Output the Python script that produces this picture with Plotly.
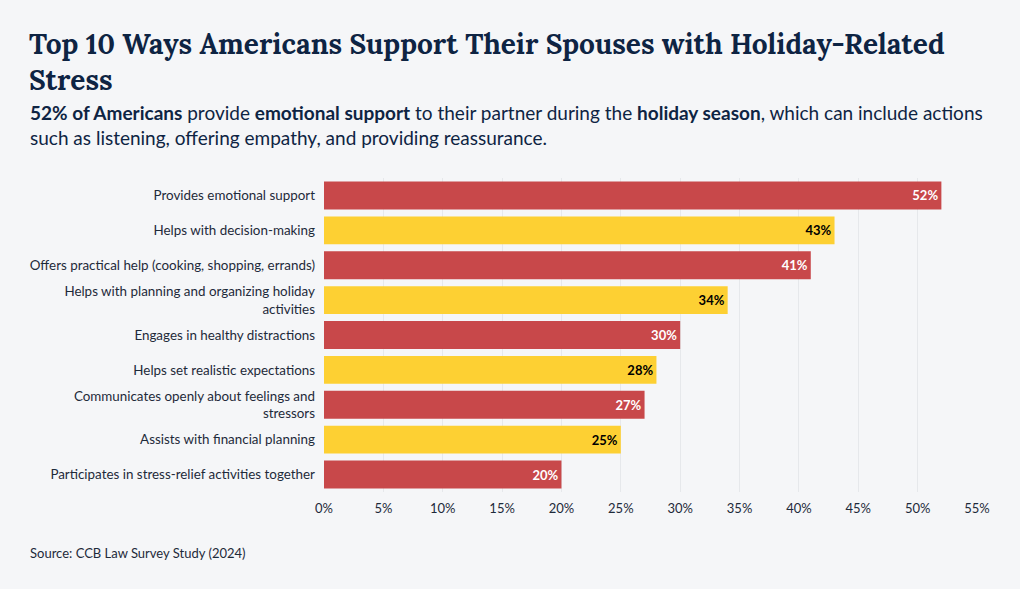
import plotly.graph_objects as go

categories = [
    "Provides emotional support",
    "Helps with decision-making",
    "Offers practical help (cooking, shopping, errands)",
    "Helps with planning and organizing holiday<br>activities",
    "Engages in healthy distractions",
    "Helps set realistic expectations",
    "Communicates openly about feelings and<br>stressors",
    "Assists with financial planning",
    "Participates in stress-relief activities together",
]
values = [52, 43, 41, 34, 30, 28, 27, 25, 20]
tick_vals = [0, 5, 10, 15, 20, 25, 30, 35, 40, 45, 50, 55]
tick_text = [f"{v}%" for v in tick_vals]

RED = "#C8484A"
YELLOW = "#FDD033"
bar_colors = [RED if i % 2 == 0 else YELLOW for i in range(len(values))]
text_colors = ["white" if i % 2 == 0 else "black" for i in range(len(values))]

BODY = "Source Sans Pro, Lato, Noto Sans, sans-serif"
NAVY = "#0E2443"

L, R, T, B = 324, 43, 178, 97
PW, PH = 1020 - L - R, 589 - T - B


def px_x(x):
    return (x - L) / PW


def px_y(y):
    return 1 - (y - T) / PH


fig = go.Figure(go.Bar(
    x=values,
    y=categories,
    orientation="h",
    marker=dict(color=bar_colors, line=dict(width=0)),
    width=0.8,
    text=[f"<b>{v}%</b>" for v in values],
    textposition="inside",
    insidetextanchor="end",
    textfont=dict(family=BODY, size=13, color=text_colors),
    textangle=0,
    hoverinfo="skip",
))

fig.update_layout(
    width=1020, height=589,
    paper_bgcolor="#F5F6F8",
    plot_bgcolor="#F5F6F8",
    margin=dict(l=L, r=R, t=T, b=B),
    showlegend=False,
    font=dict(family=BODY, color="#1E2A3A"),
)
fig.update_xaxes(
    range=[0, 55],
    tickvals=tick_vals, ticktext=tick_text,
    showgrid=True, gridcolor="#E6E8EB", gridwidth=1,
    zeroline=False, showline=False,
    ticks="outside", ticklen=4, tickcolor="rgba(0,0,0,0)",
    tickfont=dict(family=BODY, size=13, color="#1E2A3A"),
    fixedrange=True,
)
fig.update_yaxes(
    categoryorder="array", categoryarray=categories[::-1],
    showgrid=False, zeroline=False, showline=False,
    tickfont=dict(family=BODY, size=13.4, color="#1E2A3A"),
    ticks="", ticklabelstandoff=8,
    automargin=False,
)

fig.add_annotation(
    xref="paper", yref="paper", x=px_x(27), y=px_y(24),
    xanchor="left", yanchor="top", align="left",
    text="<b>Top 10 Ways Americans Support Their Spouses with Holiday-Related<br>Stress</b>",
    showarrow=False,
    font=dict(family="Lora, DejaVu Serif, serif", size=28, color=NAVY),
)
fig.add_annotation(
    xref="paper", yref="paper", x=px_x(28), y=px_y(99),
    xanchor="left", yanchor="top", align="left",
    text="<b>52% of Americans</b> provide <b>emotional support</b> to their partner during the <b>holiday season</b>, which can include actions<br>such as listening, offering empathy, and providing reassurance.",
    showarrow=False,
    font=dict(family=BODY, size=19, color=NAVY),
)
fig.add_annotation(
    xref="paper", yref="paper", x=px_x(28), y=px_y(543),
    xanchor="left", yanchor="top", align="left",
    text="Source: CCB Law Survey Study (2024)",
    showarrow=False,
    font=dict(family=BODY, size=13, color="#1E2A3A"),
)

fig.write_html(
    "out.html",
    config={"displayModeBar": False},
    post_script="document.body.style.margin='0';document.body.style.background='#F5F6F8';",
)
